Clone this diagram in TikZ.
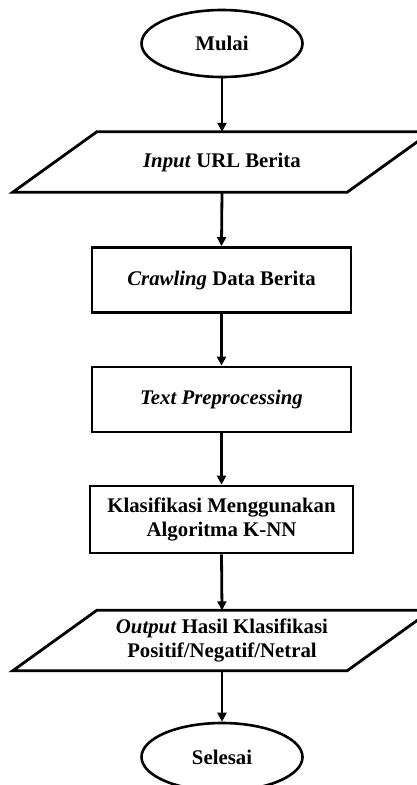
\documentclass[tikz,border=0pt]{standalone}
\usepackage{fontspec}
\setmainfont{Liberation Serif}
\usetikzlibrary{shapes.geometric,arrows.meta}
\begin{document}
\begin{tikzpicture}[x=1pt,y=-1pt,
  every node/.style={font=\fontsize{20.8}{24}\selectfont\bfseries, align=center, inner sep=0pt},
  terminal/.style={ellipse, draw, line width=2.6pt, minimum width=161pt, minimum height=67pt},
  process/.style={rectangle, draw, line width=2.8pt, minimum width=259pt, minimum height=65pt},
  io/.style={rectangle, minimum width=334pt, minimum height=60pt},
  flow/.style={line width=2.8pt, -{Triangle[length=9pt,width=9pt]}},
  slant/.style={line width=2.8pt, line join=miter}
]
\useasboundingbox (0,0) rectangle (417,785);
\clip (0,0) rectangle (417,785);

% start / end
\node[terminal] (start) at (222,43.5) {Mulai};
\node[io] (input) at (222,162) {\textit{Input} URL Berita};
\node[process] (crawl) at (221.5,280) {\textit{Crawling} Data Berita};
\node[process] (prep) at (221.5,399.5) {\textit{Text Preprocessing}};
\node[process, minimum width=263pt, minimum height=67pt] (knn) at (221.5,519.5) {Klasifikasi Menggunakan\\Algoritma K-NN};
\node[io] (output) at (222,640.5) {\textit{Output} Hasil Klasifikasi\\Positif/Negatif/Netral};
\node[terminal, minimum height=68pt] (end) at (222,757) {Selesai};

% slanted input/output symbols
\foreach \n in {input,output}{
  \draw[slant] ([xshift=-42pt]\n.south west) -- ([xshift=-42pt]\n.south east)
    -- ([xshift=42pt]\n.north east) -- ([xshift=42pt]\n.north west) -- cycle;
}

% connectors
\draw[flow] (start.south) -- (input.north);
\draw[flow] (input.south) -- (crawl.north);
\draw[flow] (crawl.south) -- (prep.north);
\draw[flow] (prep.south) -- (knn.north);
\draw[flow] (knn.south) -- (output.north);
\draw[flow] (output.south) -- (end.north);
\end{tikzpicture}
\end{document}
